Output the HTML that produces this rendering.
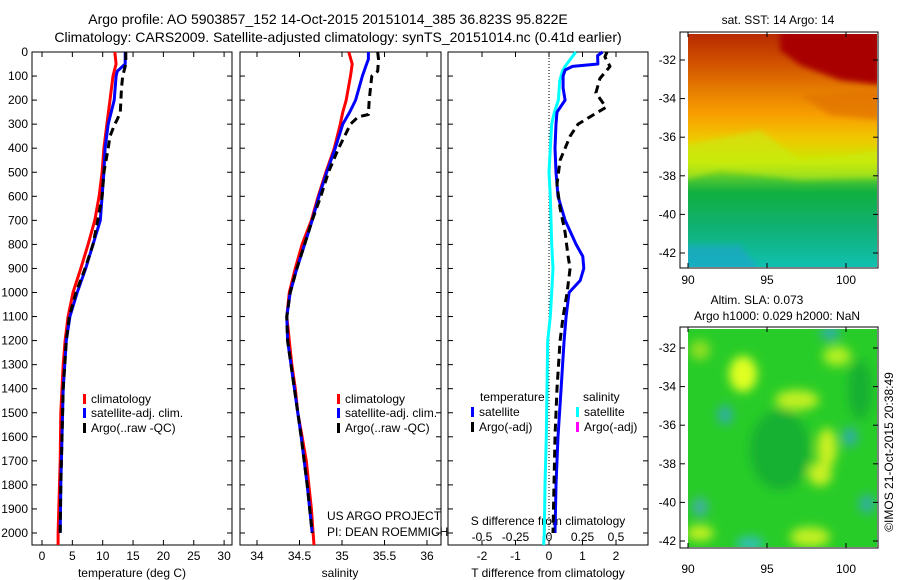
<!DOCTYPE html>
<html><head><meta charset="utf-8"><style>
html,body{margin:0;padding:0;background:#fff}
svg{display:block;font-family:"Liberation Sans",sans-serif}
</style></head><body>
<svg id="fig" width="900" height="580" viewBox="0 0 900 580" xmlns="http://www.w3.org/2000/svg">
<text x="328" y="24" font-size="14" text-anchor="middle">Argo profile: AO 5903857_152 14-Oct-2015 20151014_385 36.823S 95.822E</text>
<text x="338" y="42" font-size="14" text-anchor="middle">Climatology: CARS2009. Satellite-adjusted climatology: synTS_20151014.nc (0.41d earlier)</text>
<g id="panels"></g>
</svg>
<script>
// ---------- data ----------
const depthTicks = [0,100,200,300,400,500,600,700,800,900,1000,1100,1200,1300,1400,1500,1600,1700,1800,1900,2000];
const tempTicks = [0,5,10,15,20,25,30];
const salTicks = [34,34.5,35,35.5,36];
const tdiffTicks = [-2,-1,0,1,2];
const sdiffTicks = [-0.5,-0.25,0,0.25,0.5];
const sdiffTickLabels = ["-0.5","-0.25","0","0.25","0.5"];

const climTDepth = [0,50,100,200,300,400,500,600,700,800,900,1000,1100,1200,1300,1500,1700,2000,2050];
const climT = [12.0,12.2,11.7,11.2,10.7,10.2,9.9,9.4,8.7,7.6,6.4,5.1,4.3,3.8,3.5,3.1,3.0,2.65,2.65];
const satTDepth = [0,50,80,100,200,300,400,500,600,700,800,900,1000,1100,1200,1400,1600,1800,2000];
const satT = [13.7,13.7,12.4,12.2,11.9,10.9,10.4,10.2,9.9,9.6,8.4,7.2,5.8,4.6,4.0,3.5,3.3,3.1,3.0];
const argoTDepth = [0,50,100,150,250,280,300,350,400,500,600,700,800,900,1000,1100,1200,1400,1600,1800,2000];
const argoT = [13.8,13.8,13.3,13.1,12.9,12.4,12.0,11.2,10.9,10.2,9.9,9.2,8.4,7.1,5.6,4.5,4.0,3.5,3.3,3.1,3.0];

const climSDepth = [0,50,100,200,250,300,400,500,600,700,800,900,1000,1100,1200,1300,1400,1500,1600,1700,1800,1900,2000,2050];
const climS = [35.08,35.12,35.10,35.05,35.01,34.98,34.91,34.81,34.72,34.64,34.53,34.45,34.38,34.35,34.38,34.41,34.45,34.48,34.53,34.58,34.61,34.64,34.66,34.67];
const satSDepth = [0,30,50,100,200,250,300,400,500,600,700,800,900,1000,1100,1200,1400,1600,1800,2000];
const satS = [35.31,35.31,35.29,35.24,35.16,35.09,35.01,34.92,34.82,34.73,34.65,34.56,34.47,34.39,34.35,34.36,34.44,34.52,34.59,34.65];
const argoSDepth = [0,30,80,100,200,260,270,300,350,400,500,600,700,800,900,1000,1100,1200,1400,1600,1800,2000];
const argoS = [35.42,35.43,35.42,35.35,35.32,35.31,35.19,35.10,35.03,34.96,34.84,34.75,34.65,34.56,34.47,34.39,34.35,34.36,34.44,34.52,34.59,34.65];

const satSdiffDepth = [0,30,60,80,120,200,250,300,400,500,600,800,900,1000,1100,1200,1400,1600,1800,2000,2050];
const satSdiff = [0.20,0.16,0.12,0.10,0.08,0.07,0.04,0.02,0.01,0.0,0.01,0.02,0.03,0.02,0.01,-0.01,-0.015,-0.02,-0.03,-0.035,-0.04];
const satTdiffDepth = [0,15,50,60,75,100,150,200,250,300,400,500,600,700,800,850,900,950,1000,1100,1200,1400,1600,1800,2000];
const satTdiff = [1.6,1.45,1.46,0.70,0.48,0.42,0.42,0.48,0.24,0.21,0.18,0.21,0.27,0.48,0.81,1.01,1.04,0.93,0.60,0.51,0.45,0.36,0.27,0.21,0.18];
const argoTdiffDepth = [0,20,60,110,170,230,270,300,350,450,550,650,750,850,900,1000,1100,1200,1400,1600,1800,2000];
const argoTdiff = [1.73,1.67,1.82,1.52,1.40,1.70,1.22,0.87,0.63,0.33,0.24,0.33,0.48,0.57,0.63,0.54,0.42,0.33,0.24,0.18,0.15,0.12];

const mapLatTicks = [-32,-34,-36,-38,-40,-42];
const mapLonTicks = [90,95,100];

// ---------- helpers ----------
const NS="http://www.w3.org/2000/svg";
const root=document.getElementById('panels');
function mk(tag,attrs,parent){const e=document.createElementNS(NS,tag);for(const k in attrs)e.setAttribute(k,attrs[k]);(parent||root).appendChild(e);return e;}
const yD = d => 52 + d*0.2405;
const xT = t => 42 + t*6.07;
const xS = s => 257 + (s-34)*85;
const xTd = t => 549 + t*33.5;
const xSd = s => 549 + s*134;
const PB = 545;

function frame(x0,x1,name){
  const r=mk('rect',{x:x0,y:52,width:x1-x0,height:PB-52,fill:'none',stroke:'#000','stroke-width':1});
  
  
  depthTicks.forEach(d=>{
    mk('line',{x1:x0,x2:x0+5,y1:yD(d),y2:yD(d),stroke:'#000'});
    mk('line',{x1:x1,x2:x1-5,y1:yD(d),y2:yD(d),stroke:'#000'});
  });
}
function xticks(vals,fx,labels,ly,name){
  vals.forEach((v,i)=>{
    const x=fx(v);
    mk('line',{x1:x,x2:x,y1:52,y2:57,stroke:'#000'});
    mk('line',{x1:x,x2:x,y1:PB,y2:PB-5,stroke:'#000'});
    if(ly){const t=mk('text',{x:x,y:ly,'font-size':12,'text-anchor':'middle'});t.textContent=labels?labels[i]:String(v);
      
      }
  });
}
function series(xs,ds,fx,color,dash,name){
  const pts=xs.map((v,i)=>fx(v).toFixed(1)+','+yD(ds[i]).toFixed(1)).join(' ');
  const a={points:pts,fill:'none',stroke:color,'stroke-width':3,'stroke-linejoin':'round'};
  if(dash)a['stroke-dasharray']=dash;
  const p=mk('polyline',a);
  
  
}
function legendEntry(x,y,color,label,name){
  mk('rect',{x:x,y:y-5,width:3,height:10,fill:color});
  const t=mk('text',{x:x+8,y:y+4,'font-size':12});t.textContent=label;
  
  
}
function text(x,y,s,name,anchor,size){
  const t=mk('text',{x:x,y:y,'font-size':size||12,'text-anchor':anchor||'start'});t.textContent=s;
  
  return t;
}

// ---------- panel 1: temperature ----------
frame(32,232,'temperature-panel');
depthTicks.forEach(d=>{const t=text(28,yD(d)+4,String(d),'y-tick-label','end');});
xticks(tempTicks,xT,null,560,'temperature-tick-label');
text(132,577,'temperature (deg C)','temperature-axis-title','middle');
series(climT,climTDepth,xT,'#ff0000',null,'temp-climatology-line');
series(satT,satTDepth,xT,'#0000ff',null,'temp-satellite-line');
series(argoT,argoTDepth,xT,'#000000','8,5','temp-argo-line');
legendEntry(83,399,'#ff0000','climatology','legend-climatology');
legendEntry(83,413,'#0000ff','satellite-adj. clim.','legend-satellite');
legendEntry(83,428,'#000000','Argo(..raw -QC)','legend-argo');

// ---------- panel 2: salinity ----------
frame(240,441,'salinity-panel');
xticks(salTicks,xS,null,560,'salinity-tick-label');
text(340,577,'salinity','salinity-axis-title','middle');
series(climS,climSDepth,xS,'#ff0000',null,'sal-climatology-line');
series(satS,satSDepth,xS,'#0000ff',null,'sal-satellite-line');
series(argoS,argoSDepth,xS,'#000000','8,5','sal-argo-line');
legendEntry(337,399,'#ff0000','climatology','legend-climatology-2');
legendEntry(337,413,'#0000ff','satellite-adj. clim.','legend-satellite-2');
legendEntry(337,428,'#000000','Argo(..raw -QC)','legend-argo-2');
text(327,520,'US ARGO PROJECT','project-label');
text(327,536,'PI: DEAN ROEMMICH','pi-label');

// ---------- panel 3: differences ----------
frame(448,648,'difference-panel');
mk('line',{x1:549,x2:549,y1:52,y2:PB,stroke:'#000','stroke-dasharray':'1,2'});
xticks(tdiffTicks,xTd,null,560,'tdiff-tick-label');
sdiffTicks.forEach((v,i)=>{text(xSd(v),541,sdiffTickLabels[i],'sdiff-tick-label','middle');});
text(548,525,'S difference from climatology','sdiff-axis-title','middle');
text(548,577,'T difference from climatology','tdiff-axis-title','middle');
series(satSdiff,satSdiffDepth,xSd,'#00ffff',null,'sdiff-satellite-line');
series(satTdiff,satTdiffDepth,xTd,'#0000ff',null,'tdiff-satellite-line');
series(argoTdiff,argoTdiffDepth,xTd,'#000000','8,5','tdiff-argo-line');
text(480,401,'temperature','legend-temperature-header');
text(583,401,'salinity','legend-salinity-header');
legendEntry(471,412,'#0000ff','satellite','legend-t-satellite');
legendEntry(471,427,'#000000','Argo(-adj)','legend-t-argo');
legendEntry(576,412,'#00ffff','satellite','legend-s-satellite');
legendEntry(576,427,'#ff00ff','Argo(-adj)','legend-s-argo');

// ---------- maps ----------
function mapFrame(y0,y1,latY,lonY,name){
  const r=mk('rect',{x:680,y:y0,width:198,height:y1-y0,fill:'none',stroke:'#000'});
  
  
  mapLatTicks.forEach(l=>{const y=latY(l);mk('line',{x1:680,x2:685,y1:y,y2:y,stroke:'#000'});mk('line',{x1:878,x2:873,y1:y,y2:y,stroke:'#000'});
    text(676,y+4,String(l),'map-lat-label','end');});
  mapLonTicks.forEach(l=>{const x=688+(l-90)*15.8;mk('line',{x1:x,x2:x,y1:y0,y2:y0+5,stroke:'#000'});mk('line',{x1:x,x2:x,y1:y1,y2:y1-5,stroke:'#000'});
    text(x,lonY,String(l),'map-lon-label','middle');});
}
const defs=mk('defs',{});
const c1=mk('clipPath',{id:'clipTop'},defs);mk('rect',{x:688,y:34,width:189,height:233},c1);
const c2=mk('clipPath',{id:'clipBot'},defs);mk('rect',{x:688,y:329,width:189,height:218},c2);
const bl=mk('filter',{id:'blur',x:'-50%',y:'-50%',width:'200%',height:'200%'},defs);mk('feGaussianBlur',{stdDeviation:5},bl);
const bl2=mk('filter',{id:'blur2',x:'-20%',y:'-20%',width:'140%',height:'140%'},defs);mk('feGaussianBlur',{stdDeviation:3},bl2);

// top SST map
const g1=mk('linearGradient',{id:'sst',x1:0,y1:0,x2:0,y2:1},defs);
[[0,'#b82a00'],[0.12,'#d05000'],[0.25,'#e88000'],[0.35,'#f8a000'],[0.45,'#f0c800'],[0.55,'#c8e800'],[0.62,'#50c830'],[0.68,'#10b040'],[0.82,'#10b070'],[1,'#10c0b0']].forEach(s=>mk('stop',{offset:s[0],'stop-color':s[1]},g1));
const topG=mk('g',{'clip-path':'url(#clipTop)'});
const sstRect=mk('rect',{x:688,y:34,width:189,height:233,fill:'url(#sst)'},topG);


const topB=mk('g',{filter:'url(#blur2)'},topG);
mk('polygon',{points:'780,30 880,30 880,85 840,80 800,65 780,50',fill:'#a80000'},topB);
mk('polygon',{points:'800,95 880,90 880,120 830,115',fill:'#e07000',opacity:0.7},topB);
mk('polygon',{points:'684,145 760,130 800,160 850,155 880,150 880,178 800,180 760,175 720,170 684,180',fill:'#c8ec10',opacity:0.6},topB);
mk('polygon',{points:'684,245 740,245 760,270 684,270',fill:'#20a0d0',opacity:0.6},topB);
mapFrame(32,268,l=>60+(-32-l)*19.3,284,'sst-map-frame');
text(778,24,'sat. SST: 14 Argo: 14','sst-map-title','middle');

// bottom SLA map
const botG=mk('g',{'clip-path':'url(#clipBot)'});
const slaRect=mk('rect',{x:688,y:329,width:189,height:218,fill:'#28cc28'},botG);


const blobs=[[743,374,14,18,'#e0ff20'],[797,400,22,10,'#c0f020'],[827,448,10,20,'#c8f020'],[820,474,12,12,'#c8f020'],[810,537,20,10,'#c0f020'],[700,533,14,8,'#c0f020'],[837,356,14,10,'#b0f020'],[700,350,10,10,'#90e020'],
[725,415,8,10,'#30b0a0'],[850,437,8,10,'#30b0a0'],[830,333,10,8,'#30b0a0'],[750,544,14,8,'#30c0b0'],[867,504,8,10,'#30b0a0'],[700,507,8,10,'#40b0a0'],[780,450,30,40,'#18b030'],[860,390,12,30,'#18b030']];
const botB=mk('g',{filter:'url(#blur)'},botG);
blobs.forEach(b=>mk('ellipse',{cx:b[0],cy:b[1],rx:b[2],ry:b[3],fill:b[4]},botB));
mapFrame(327,548,l=>348+(-32-l)*19.3,573,'sla-map-frame');
text(757,304,'Altim. SLA: 0.073','sla-map-title','middle');
text(777,320,'Argo h1000: 0.029 h2000: NaN','sla-map-subtitle','middle');
const cp=text(0,0,'©IMOS 21-Oct-2015 20:38:49','copyright-label','middle');
cp.setAttribute('transform','translate(893,452) rotate(-90)');
</script>
</body></html>
